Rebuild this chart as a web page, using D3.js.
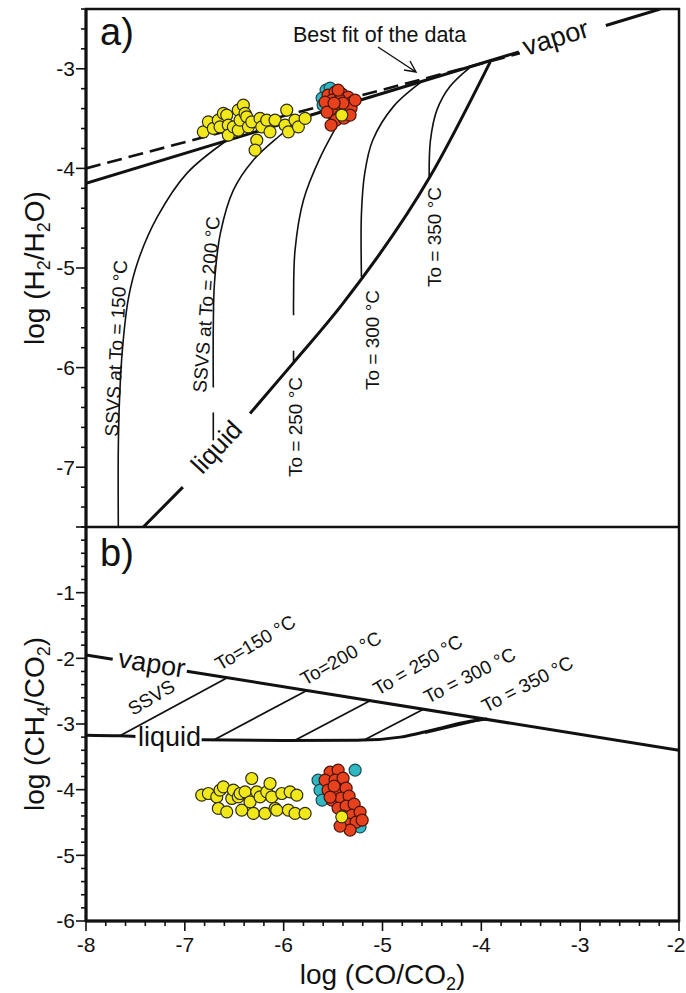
<!DOCTYPE html>
<html>
<head>
<meta charset="utf-8">
<script src="https://cdn.jsdelivr.net/npm/d3@7"></script>
<style>
  body { margin: 0; background: #fff; }
  text { font-family: "Liberation Sans", Arial, sans-serif; fill: #111; }
</style>
</head>
<body>
<div id="chart"></div>
<script>
// x: log(CO/CO2), shared by both panels
const xTicks = [-8, -7, -6, -5, -4, -3, -2];
const yTicksA = [-7, -6, -5, -4, -3];
const yTicksB = [-6, -5, -4, -3, -2, -1];

// panel a) log(H2/H2O) — equilibrium lines
const vaporA = [[-8, -4.15], [-2.19, -2.4]];
const bestFitA = [[-8, -4.0], [-3.61, -2.845]];
const liquidA = [[-7.42, -7.6], [-7.02, -7.2], [-6.34, -6.46], [-5.90, -5.95], [-5.40, -5.355], [-4.52, -4.085], [-3.91, -2.93]];
const ssvs150A = [[-6.576, -3.72], [-6.98, -4.05], [-7.28, -4.49], [-7.47, -4.92], [-7.57, -5.3], [-7.63, -5.8], [-7.66, -6.3], [-7.673, -6.8], [-7.673, -7.6]];
const ssvs200A = [[-5.82, -3.50], [-6.05, -3.68], [-6.31, -3.92], [-6.51, -4.22], [-6.64, -4.65], [-6.70, -5.15], [-6.712, -5.6], [-6.712, -6.20]];
const ssvs200TailA = [[-6.712, -6.45], [-6.712, -6.73]];
const to250A = [[-5.33, -3.35], [-5.40, -3.465], [-5.63, -3.89], [-5.80, -4.32], [-5.885, -4.82], [-5.90, -5.33], [-5.90, -5.475]];
const to250TailA = [[-5.90, -5.83], [-5.90, -5.95]];
const to300A = [[-4.59, -3.12], [-4.89, -3.38], [-5.10, -3.72], [-5.18, -4.05], [-5.213, -4.45], [-5.213, -5.09]];
const to350A = [[-4.12, -2.99], [-4.32, -3.18], [-4.45, -3.415], [-4.515, -3.72], [-4.528, -4.09]];

// panel a) samples
const yellowA = [[-6.813, -3.633], [-6.762, -3.533], [-6.712, -3.599], [-6.661, -3.516], [-6.644, -3.583], [-6.610, -3.448],
  [-6.576, -3.465], [-6.560, -3.566], [-6.560, -3.666], [-6.509, -3.583], [-6.459, -3.415], [-6.459, -3.616], [-6.441, -3.516],
  [-6.408, -3.365], [-6.391, -3.448], [-6.374, -3.482], [-6.357, -3.583], [-6.323, -3.533], [-6.272, -3.717], [-6.289, -3.817],
  [-6.239, -3.498], [-6.222, -3.583], [-6.171, -3.516], [-6.138, -3.633], [-6.087, -3.516], [-5.986, -3.566], [-5.969, -3.415],
  [-5.952, -3.633], [-5.885, -3.516], [-5.851, -3.583], [-5.783, -3.498], [-5.412, -3.465]];
const redA = [[-5.551, -3.264], [-5.480, -3.234], [-5.409, -3.254], [-5.348, -3.284], [-5.308, -3.335], [-5.510, -3.315],
  [-5.429, -3.315], [-5.368, -3.365], [-5.530, -3.375], [-5.449, -3.395], [-5.379, -3.415], [-5.318, -3.395], [-5.581, -3.335],
  [-5.500, -3.455], [-5.429, -3.475], [-5.470, -3.516], [-5.520, -3.566], [-5.389, -3.495], [-5.328, -3.465], [-5.277, -3.315],
  [-5.449, -3.214], [-5.561, -3.435], [-5.399, -3.345], [-5.490, -3.345]];
const cyanA = [[-5.571, -3.214], [-5.611, -3.294], [-5.530, -3.194], [-5.601, -3.365]];

// panel b) log(CH4/CO2)
const vaporB = [[-8, -1.95], [-2, -3.40]];
const liquidB = [[-8, -3.17], [-7.66, -3.18], [-7.50, -3.19], [-6.83, -3.24], [-6.0, -3.25], [-5.2, -3.245], [-4.82, -3.20], [-4.49, -3.09], [-4.15, -2.97], [-3.94, -2.925]];
const tie150B = [[-7.656, -3.18], [-6.576, -2.30]];
const tie200B = [[-6.712, -3.247], [-5.766, -2.49]];
const tie250B = [[-5.885, -3.247], [-5.126, -2.645]];
const tie300B = [[-5.176, -3.236], [-4.586, -2.775]];
const tie350B = [[-4.57, -3.14], [-3.98, -2.93]];

const yellowB = [[-6.829, -4.084], [-6.762, -4.058], [-6.677, -4.110], [-6.644, -4.008], [-6.610, -3.957], [-6.661, -4.286],
  [-6.576, -4.338], [-6.525, -4.134], [-6.509, -4.008], [-6.459, -4.110], [-6.441, -4.058], [-6.424, -4.312], [-6.391, -4.033],
  [-6.340, -4.186], [-6.323, -3.830], [-6.307, -4.362], [-6.272, -4.033], [-6.239, -4.110], [-6.188, -4.362], [-6.171, -4.033],
  [-6.138, -3.906], [-6.121, -4.110], [-6.087, -4.286], [-6.070, -4.312], [-6.019, -4.058], [-5.952, -4.312], [-5.935, -4.033],
  [-5.867, -4.084], [-5.885, -4.362], [-5.783, -4.362], [-5.412, -4.414]];
const redB = [[-5.530, -3.734], [-5.449, -3.703], [-5.581, -3.855], [-5.480, -3.855], [-5.399, -3.825], [-5.551, -4.008],
  [-5.449, -4.008], [-5.368, -3.977], [-5.510, -4.160], [-5.419, -4.129], [-5.338, -4.099], [-5.449, -4.282], [-5.368, -4.251],
  [-5.287, -4.221], [-5.399, -4.403], [-5.308, -4.388], [-5.227, -4.342], [-5.348, -4.525], [-5.267, -4.495], [-5.206, -4.464],
  [-5.328, -4.616], [-5.429, -4.555], [-5.490, -3.947], [-5.530, -4.114]];
const cyanB = [[-5.277, -3.703], [-5.652, -3.855], [-5.632, -4.008], [-5.227, -4.566], [-5.611, -4.160]];

const W = 686, H = 993;
const left = 86, right = 679, topA = 9, mid = 527, bottom = 921;

const svg = d3.select("#chart").append("svg")
  .attr("width", W)
  .attr("height", H);

const x = d3.scaleLinear().domain([-8, -2]).range([left, right]);
const yA = d3.scaleLinear().domain([-7.6, -2.4]).range([mid, topA]);
const yB = d3.scaleLinear().domain([-6, 0]).range([bottom, mid]);

// clip each panel so lines stop at the frame
const defs = svg.append("defs");
defs.append("clipPath").attr("id", "clipA").append("rect")
  .attr("x", left).attr("y", topA).attr("width", right - left).attr("height", mid - topA);
defs.append("clipPath").attr("id", "clipB").append("rect")
  .attr("x", left).attr("y", mid).attr("width", right - left).attr("height", bottom - mid);

const gA = svg.append("g").attr("clip-path", "url(#clipA)");
const gB = svg.append("g").attr("clip-path", "url(#clipB)");

function lineFor(y, curve) {
  return d3.line().x(d => x(d[0])).y(d => y(d[1])).curve(curve || d3.curveLinear);
}

function drawPath(g, data, y, width, curve, dash) {
  g.append("path")
    .datum(data)
    .attr("d", lineFor(y, curve))
    .attr("fill", "none")
    .attr("stroke", "#111")
    .attr("stroke-width", width)
    .attr("stroke-dasharray", dash || null);
}

// pick a piece of a straight line between two x values
function piece(seg, x0, x1) {
  const k = (seg[1][1] - seg[0][1]) / (seg[1][0] - seg[0][0]);
  const f = v => seg[0][1] + (v - seg[0][0]) * k;
  return [[x0, f(x0)], [x1, f(x1)]];
}

// ---- panel a lines ----
const cr = d3.curveCatmullRom.alpha(0.5);
drawPath(gA, ssvs150A, yA, 1.6, cr);
drawPath(gA, ssvs200A, yA, 1.6, cr);
drawPath(gA, ssvs200TailA, yA, 1.6);
drawPath(gA, to250A, yA, 1.6, cr);
drawPath(gA, to250TailA, yA, 1.6);
drawPath(gA, to300A, yA, 1.6, cr);
drawPath(gA, to350A, yA, 1.6, cr);

drawPath(gA, piece(vaporA, -8, -3.62), yA, 3);
drawPath(gA, piece(vaporA, -2.74, -2.19), yA, 3);
drawPath(gA, bestFitA, yA, 2.6, null, "15,7");

// liquid, broken where its label sits
drawPath(gA, liquidA.slice(0, 2), yA, 3, d3.curveMonotoneX);
drawPath(gA, liquidA.slice(2), yA, 3, d3.curveMonotoneX);

// ---- panel b lines ----
drawPath(gB, piece(vaporB, -8, -7.73), yB, 3);
drawPath(gB, piece(vaporB, -6.98, -2), yB, 3);
drawPath(gB, liquidB.slice(0, 3), yB, 3, d3.curveMonotoneX);
drawPath(gB, liquidB.slice(3), yB, 3, d3.curveMonotoneX);
[tie150B, tie200B, tie250B, tie300B, tie350B].forEach(t => drawPath(gB, t, yB, 1.8));

// ---- sample points ----
function drawDots(g, data, y, fill, stroke) {
  g.selectAll(null)
    .data(data)
    .enter().append("circle")
    .attr("cx", d => x(d[0]))
    .attr("cy", d => y(d[1]))
    .attr("r", 6)
    .attr("fill", fill)
    .attr("stroke", stroke)
    .attr("stroke-width", 1.2);
}
drawDots(gA, cyanA, yA, "#2fb7c4", "#1d4a52");
drawDots(gA, redA, yA, "#e8411e", "#4a1408");
drawDots(gA, yellowA, yA, "#f1e81c", "#2f2d10");
drawDots(gB, cyanB, yB, "#2fb7c4", "#1d4a52");
drawDots(gB, redB, yB, "#e8411e", "#4a1408");
drawDots(gB, yellowB, yB, "#f1e81c", "#2f2d10");

// ---- frame ----
svg.append("rect")
  .attr("x", left).attr("y", topA)
  .attr("width", right - left).attr("height", bottom - topA)
  .attr("fill", "none").attr("stroke", "#111").attr("stroke-width", 2.5);
svg.append("line")
  .attr("x1", left).attr("x2", right).attr("y1", mid).attr("y2", mid)
  .attr("stroke", "#111").attr("stroke-width", 2.5);
svg.append("line")
  .attr("x1", left).attr("x2", left).attr("y1", topA).attr("y2", bottom)
  .attr("stroke", "#111").attr("stroke-width", 3);
svg.append("line")
  .attr("x1", left).attr("x2", right).attr("y1", bottom).attr("y2", bottom)
  .attr("stroke", "#111").attr("stroke-width", 3);

// ---- ticks ----
const isMajor = v => Math.abs(v - Math.round(v)) < 1e-6;

function yTickMarks(y, lo, hi) {
  const vals = d3.range(Math.round(lo * 5), Math.round(hi * 5) + 1).map(i => i / 5);
  svg.append("g").selectAll("line")
    .data(vals)
    .enter().append("line")
    .attr("x1", d => left - (isMajor(d) ? 10 : 5))
    .attr("x2", left)
    .attr("y1", d => y(d)).attr("y2", d => y(d))
    .attr("stroke", "#111").attr("stroke-width", 1.6);
}
yTickMarks(yA, -7.6, -2.4);
yTickMarks(yB, -6, 0);

function yTickLabels(y, vals) {
  svg.append("g").selectAll("text")
    .data(vals)
    .enter().append("text")
    .attr("x", left - 11)
    .attr("y", d => y(d))
    .attr("dy", "0.35em")
    .attr("text-anchor", "end")
    .style("font-size", "21px")
    .text(d => String(d));
}
yTickLabels(yA, yTicksA);
yTickLabels(yB, yTicksB);

const xMinor = d3.range(-40, -9).map(i => i / 5);
svg.append("g").selectAll("line")
  .data(xMinor)
  .enter().append("line")
  .attr("x1", d => x(d)).attr("x2", d => x(d))
  .attr("y1", bottom)
  .attr("y2", d => bottom + (isMajor(d) ? 10 : 5))
  .attr("stroke", "#111").attr("stroke-width", 1.6);

// last label sits on the page edge, as in the original
svg.append("g").selectAll("text")
  .data(xTicks)
  .enter().append("text")
  .attr("x", d => d === -2 ? x(d) - 3 : x(d))
  .attr("y", 952)
  .attr("text-anchor", "middle")
  .style("font-size", "21px")
  .text(d => String(d));

// ---- axis titles ----
// parts: [text, isSubscript]; subscripts are shifted down in px then back up
function subTitle(sel, parts, size) {
  let down = false;
  parts.forEach(p => {
    const t = sel.append("tspan").text(p[0]);
    if (p[1]) {
      t.attr("dy", 6).style("font-size", Math.round(size * 0.66) + "px");
      down = true;
    } else if (down) {
      t.attr("dy", -6);
      down = false;
    }
  });
}

const titleA = svg.append("text")
  .attr("transform", `translate(44,${(topA + mid) / 2}) rotate(-90)`)
  .attr("text-anchor", "middle")
  .style("font-size", "28px");
subTitle(titleA, [["log (H"], ["2", 1], ["/H"], ["2", 1], ["O)"]], 28);

const titleB = svg.append("text")
  .attr("transform", `translate(44,${(mid + bottom) / 2}) rotate(-90)`)
  .attr("text-anchor", "middle")
  .style("font-size", "28px");
subTitle(titleB, [["log (CH"], ["4", 1], ["/CO"], ["2", 1], [")"]], 28);

const titleX = svg.append("text")
  .attr("x", (left + right) / 2)
  .attr("y", 984)
  .attr("text-anchor", "middle")
  .style("font-size", "28px");
subTitle(titleX, [["log (CO/CO"], ["2", 1], [")"]], 28);

// ---- annotations ----
function label(txt, px, py, rot, size, anchor) {
  svg.append("text")
    .attr("transform", `translate(${px},${py}) rotate(${rot})`)
    .attr("text-anchor", anchor || "start")
    .style("font-size", size + "px")
    .text(txt);
}

label("a)", 100, 45, 0, 38);
label("b)", 100, 566, 0, 38);

// panel a
label("Best fit of the data", 293, 42, 0, 21.5);
svg.append("path")
  .attr("d", "M378,47 L416,72 M404,70 L416,72 L410,61")
  .attr("fill", "none").attr("stroke", "#111").attr("stroke-width", 1.4);
label("vapor", 526, 56, -17, 27);
label("liquid", 223, 453, -47, 26, "middle");
label("SSVS at To = 150 \u00b0C", 118, 437, -87, 19);
label("SSVS at To = 200 \u00b0C", 206, 393, -85.5, 19);
label("To = 250 \u00b0C", 302, 477, -90, 19);
label("To = 300 \u00b0C", 379, 390, -90, 19);
label("To = 350 \u00b0C", 441, 287, -90, 19);

// panel b
label("vapor", 117, 667, 9.2, 27);
label("liquid", 138, 746, 0, 27);
label("SSVS", 133, 716, -31, 19);
label("To=150 \u00b0C", 220, 671, -30.5, 19);
label("To=200 \u00b0C", 305, 686, -29.5, 19);
label("To = 250 \u00b0C", 378, 696, -30.5, 19);
label("To = 300 \u00b0C", 428, 704, -27, 19);
label("To = 350 \u00b0C", 486, 713, -27.5, 19);
</script>
</body>
</html>
